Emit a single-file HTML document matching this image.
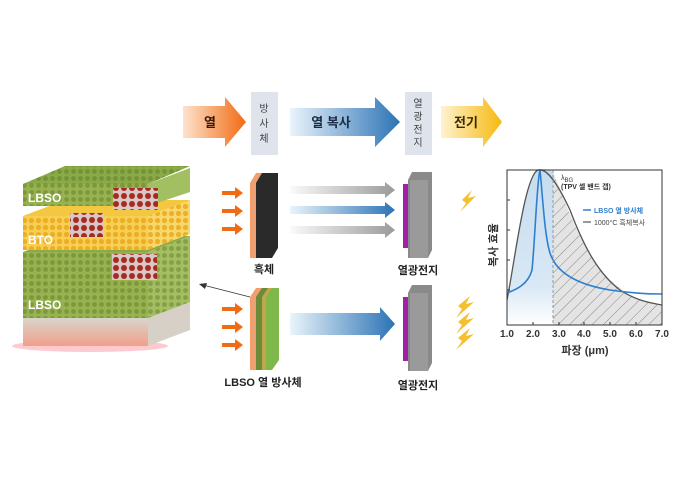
<!DOCTYPE html>
<html><head><meta charset="utf-8"><style>
body{margin:0;background:#fff}
svg{display:block;font-family:"Liberation Sans","Noto Sans CJK KR",sans-serif}
</style></head><body>
<svg width="680" height="492" viewBox="0 0 680 492">
<defs>
<linearGradient id="og" x1="0" x2="1"><stop offset="0" stop-color="#fde3cf"/><stop offset="1" stop-color="#f26a12"/></linearGradient>
<linearGradient id="bg" x1="0" x2="1"><stop offset="0" stop-color="#eaf4fb"/><stop offset="1" stop-color="#2c73b5"/></linearGradient>
<linearGradient id="yg" x1="0" x2="1"><stop offset="0" stop-color="#fff3cf"/><stop offset="1" stop-color="#f6b90f"/></linearGradient>
<linearGradient id="gg" x1="0" x2="1"><stop offset="0" stop-color="#fafafa"/><stop offset="1" stop-color="#9a9a9a"/></linearGradient>
<linearGradient id="sub" x1="0" x2="0" y1="0" y2="1"><stop offset="0" stop-color="#d9d4cc"/><stop offset="1" stop-color="#f0a089"/></linearGradient>
<linearGradient id="fill" x1="0" x2="0" y1="0" y2="1"><stop offset="0" stop-color="#c6dcef"/><stop offset="0.75" stop-color="#d9e8f5"/><stop offset="1" stop-color="#fff"/></linearGradient>
<pattern id="hat" width="8" height="8" patternUnits="userSpaceOnUse" patternTransform="rotate(45)"><rect width="8" height="8" fill="#e4e4e4"/><line x1="0" y1="0" x2="0" y2="8" stroke="#888" stroke-width="1"/></pattern>
<pattern id="dots" width="7" height="7" patternUnits="userSpaceOnUse"><circle cx="3.5" cy="3.5" r="2.4" fill="#5e6a1e" opacity="0.4"/></pattern>
<pattern id="ydots" width="7" height="7" patternUnits="userSpaceOnUse"><circle cx="3.5" cy="3.5" r="2.6" fill="#e8a00f" opacity="0.7"/></pattern>
<pattern id="rdots" width="8" height="8" patternUnits="userSpaceOnUse"><rect width="8" height="8" fill="#d9c7c7"/><circle cx="4" cy="4" r="3" fill="#a52a1f"/></pattern>
</defs>

<!-- top flow -->
<polygon points="183,106 225,106 225,97 246,122 225,147 225,138 183,138" fill="url(#og)"/>
<text x="210" y="127" font-size="13" font-weight="bold" fill="#3a1b08" text-anchor="middle">열</text>
<rect x="251" y="92" width="27" height="63" fill="#dfe3ec"/>
<text x="264" y="112" font-size="10" fill="#444" text-anchor="middle">방</text>
<text x="264" y="127" font-size="10" fill="#444" text-anchor="middle">사</text>
<text x="264" y="142" font-size="10" fill="#444" text-anchor="middle">체</text>
<polygon points="290,108 375,108 375,97 400,122 375,147 375,136 290,136" fill="url(#bg)"/>
<text x="331" y="127" font-size="13" font-weight="bold" fill="#1c2c44" text-anchor="middle">열 복사</text>
<rect x="405" y="92" width="27" height="63" fill="#dfe3ec"/>
<text x="418" y="107" font-size="10" fill="#444" text-anchor="middle">열</text>
<text x="418" y="120" font-size="10" fill="#444" text-anchor="middle">광</text>
<text x="418" y="133" font-size="10" fill="#444" text-anchor="middle">전</text>
<text x="418" y="146" font-size="10" fill="#444" text-anchor="middle">지</text>
<polygon points="441,106 483,106 483,97 502,122 483,147 483,138 441,138" fill="url(#yg)"/>
<text x="466" y="127" font-size="13" font-weight="bold" fill="#3a2a00" text-anchor="middle">전기</text>

<!-- left stack -->
<ellipse cx="90" cy="346" rx="78" ry="6" fill="#ff5060" opacity="0.3"/>
<rect x="23" y="318" width="125" height="28" fill="url(#sub)"/>
<polygon points="148,318 190,302 190,330 148,346" fill="#d6d0c6"/>
<!-- lower LBSO -->
<rect x="23" y="252" width="125" height="66" fill="#95b450"/><rect x="23" y="252" width="125" height="66" fill="url(#dots)"/>
<polygon points="148,252 190,236 190,302 148,318" fill="#a2c062"/><polygon points="148,252 190,236 190,302 148,318" fill="url(#dots)"/>
<polygon points="23,252 65,236 190,236 148,252" fill="#88ab48"/>
<rect x="112" y="254" width="45" height="26" fill="url(#rdots)"/>
<text x="28" y="309" font-size="12" font-weight="bold" fill="#fff">LBSO</text>
<!-- BTO -->
<rect x="23" y="216" width="125" height="34" fill="#f7cf55"/><rect x="23" y="216" width="125" height="34" fill="url(#ydots)"/>
<polygon points="148,216 190,200 190,234 148,250" fill="#f8d86a"/><polygon points="148,216 190,200 190,234 148,250" fill="url(#ydots)"/>
<polygon points="23,216 65,200 190,200 148,216" fill="#f3c840"/>
<rect x="70" y="213" width="34" height="24" fill="url(#rdots)"/>
<text x="28" y="244" font-size="12" font-weight="bold" fill="#fff">BTO</text>
<!-- top LBSO -->
<rect x="23" y="184" width="125" height="22" fill="#95b450"/><rect x="23" y="184" width="125" height="22" fill="url(#dots)"/>
<polygon points="148,184 190,168 190,192 148,206" fill="#a2c062"/>
<polygon points="23,184 65,166 190,166 148,184" fill="#88ab48"/><polygon points="23,184 65,166 190,166 148,184" fill="url(#dots)"/>
<rect x="113" y="188" width="45" height="22" fill="url(#rdots)"/>
<text x="28" y="202" font-size="12" font-weight="bold" fill="#fff">LBSO</text>

<!-- pointer -->
<line x1="250" y1="297" x2="203" y2="285" stroke="#333" stroke-width="0.8"/>
<polygon points="199,284 207,283 205,289" fill="#333"/>

<!-- orange small arrows -->
<g fill="#f26a12">
<polygon points="222,191 235,191 235,187 243,193 235,199 235,195 222,195"/>
<polygon points="222,209 235,209 235,205 243,211 235,217 235,213 222,213"/>
<polygon points="222,227 235,227 235,223 243,229 235,235 235,231 222,231"/>
<polygon points="222,307 235,307 235,303 243,309 235,315 235,311 222,311"/>
<polygon points="222,325 235,325 235,321 243,327 235,333 235,329 222,329"/>
<polygon points="222,343 235,343 235,339 243,345 235,351 235,347 222,347"/>
</g>
<!-- blackbody -->
<polygon points="250,183 256,173 262,173 256,258 250,258" fill="#f0a070"/>
<polygon points="256,183 262,173 278,173 278,248 272,258 256,258" fill="#2a2a2a"/>
<text x="264" y="273" font-size="11" font-weight="bold" fill="#222" text-anchor="middle">흑체</text>
<!-- LBSO emitter -->
<polygon points="250,297 256,288 262,288 256,370 250,370" fill="#f0a070"/>
<polygon points="256,297 262,288 268,288 262,370 256,370" fill="#6a8b3a"/>
<polygon points="262,297 268,288 272,288 266,370 262,370" fill="#c2a64a"/>
<polygon points="266,297 272,288 279,288 279,360 272,370 266,370" fill="#7fb84a"/>
<text x="263" y="386" font-size="11" font-weight="bold" fill="#222" text-anchor="middle">LBSO 열 방사체</text>

<!-- beams -->
<polygon points="290,186 385,186 385,182 395,190 385,198 385,194 290,194" fill="url(#gg)"/>
<polygon points="290,206 385,206 385,202 395,210 385,218 385,214 290,214" fill="url(#bg)"/>
<polygon points="290,226 385,226 385,222 395,230 385,238 385,234 290,234" fill="url(#gg)"/>
<polygon points="290,313 380,313 380,307 395,324 380,341 380,335 290,335" fill="url(#bg)"/>

<!-- PV cells -->
<g>
<rect x="403" y="184" width="7" height="64" fill="#a020a8"/>
<polygon points="408,180 412,172 432,172 432,250 428,258 408,258" fill="#8a8a8a"/>
<rect x="410" y="180" width="18" height="78" fill="#9a9a9a"/>
<text x="418" y="274" font-size="11" font-weight="bold" fill="#222" text-anchor="middle">열광전지</text>
<rect x="403" y="297" width="7" height="64" fill="#a020a8"/>
<polygon points="408,293 412,285 432,285 432,363 428,371 408,371" fill="#8a8a8a"/>
<rect x="410" y="293" width="18" height="78" fill="#9a9a9a"/>
<text x="418" y="389" font-size="11" font-weight="bold" fill="#222" text-anchor="middle">열광전지</text>
</g>
<!-- bolts -->
<g fill="#f5c030">
<polygon points="462,200 472,190 468,198 476,196 460,212 466,203"/>
<polygon points="458,306 470,296 466,304 474,302 456,318 462,309"/>
<polygon points="458,322 470,312 466,320 474,318 456,334 462,325"/>
<polygon points="458,338 470,328 466,336 474,334 456,350 462,341"/>
</g>

<!-- graph -->
<path d="M553,172 C565,200 580,250 610,280 C630,298 645,302 662,305 L662,325 L553,325 Z" fill="url(#hat)"/>
<path d="M507,300 C515,260 525,175 538,170 C546,168 550,170 553,172 L553,325 L507,325 Z" fill="url(#fill)"/>
<path d="M507,300 C515,260 525,175 538,170 C546,168 556,180 570,210 C585,250 600,275 620,290 C635,300 650,303 662,305" fill="none" stroke="#555" stroke-width="1.3"/>
<path d="M507,293 C515,290 528,285 532,270 C535,240 537,180 540,170 C543,200 545,245 552,258 C560,275 580,285 610,290 C630,293 650,294 662,294" fill="none" stroke="#2f7fd0" stroke-width="1.6"/>
<line x1="553" y1="170" x2="553" y2="325" stroke="#999" stroke-dasharray="3,2"/>
<rect x="507" y="170" width="155" height="155" fill="none" stroke="#333" stroke-width="1"/>
<g stroke="#333"><line x1="533" y1="325" x2="533" y2="322"/><line x1="559" y1="325" x2="559" y2="322"/><line x1="584" y1="325" x2="584" y2="322"/><line x1="610" y1="325" x2="610" y2="322"/><line x1="636" y1="325" x2="636" y2="322"/>
<line x1="507" y1="200" x2="510" y2="200"/><line x1="507" y1="230" x2="510" y2="230"/><line x1="507" y1="260" x2="510" y2="260"/><line x1="507" y1="290" x2="510" y2="290"/></g>
<g font-size="10" font-weight="bold" fill="#333" text-anchor="middle">
<text x="507" y="337">1.0</text><text x="533" y="337">2.0</text><text x="559" y="337">3.0</text><text x="584" y="337">4.0</text><text x="610" y="337">5.0</text><text x="636" y="337">6.0</text><text x="662" y="337">7.0</text>
</g>
<text x="585" y="354" font-size="11" font-weight="bold" fill="#333" text-anchor="middle">파장 (μm)</text>
<text x="0" y="0" font-size="11" font-weight="bold" fill="#333" text-anchor="middle" transform="translate(497,245) rotate(-90)">복사 효율</text>
<text x="561" y="180" font-size="7" fill="#333">λ<tspan font-size="6" dy="2">BG</tspan></text>
<text x="561" y="189" font-size="7" font-weight="bold" fill="#333">(TPV 셀 밴드 갭)</text>
<line x1="583" y1="210" x2="591" y2="210" stroke="#2f7fd0" stroke-width="1.5"/>
<text x="594" y="213" font-size="7" font-weight="bold" fill="#2f7fd0">LBSO 열 방사체</text>
<line x1="583" y1="222" x2="591" y2="222" stroke="#555" stroke-width="1.2"/>
<text x="594" y="225" font-size="7" fill="#444">1000°C 흑체복사</text>
</svg>
</body></html>
